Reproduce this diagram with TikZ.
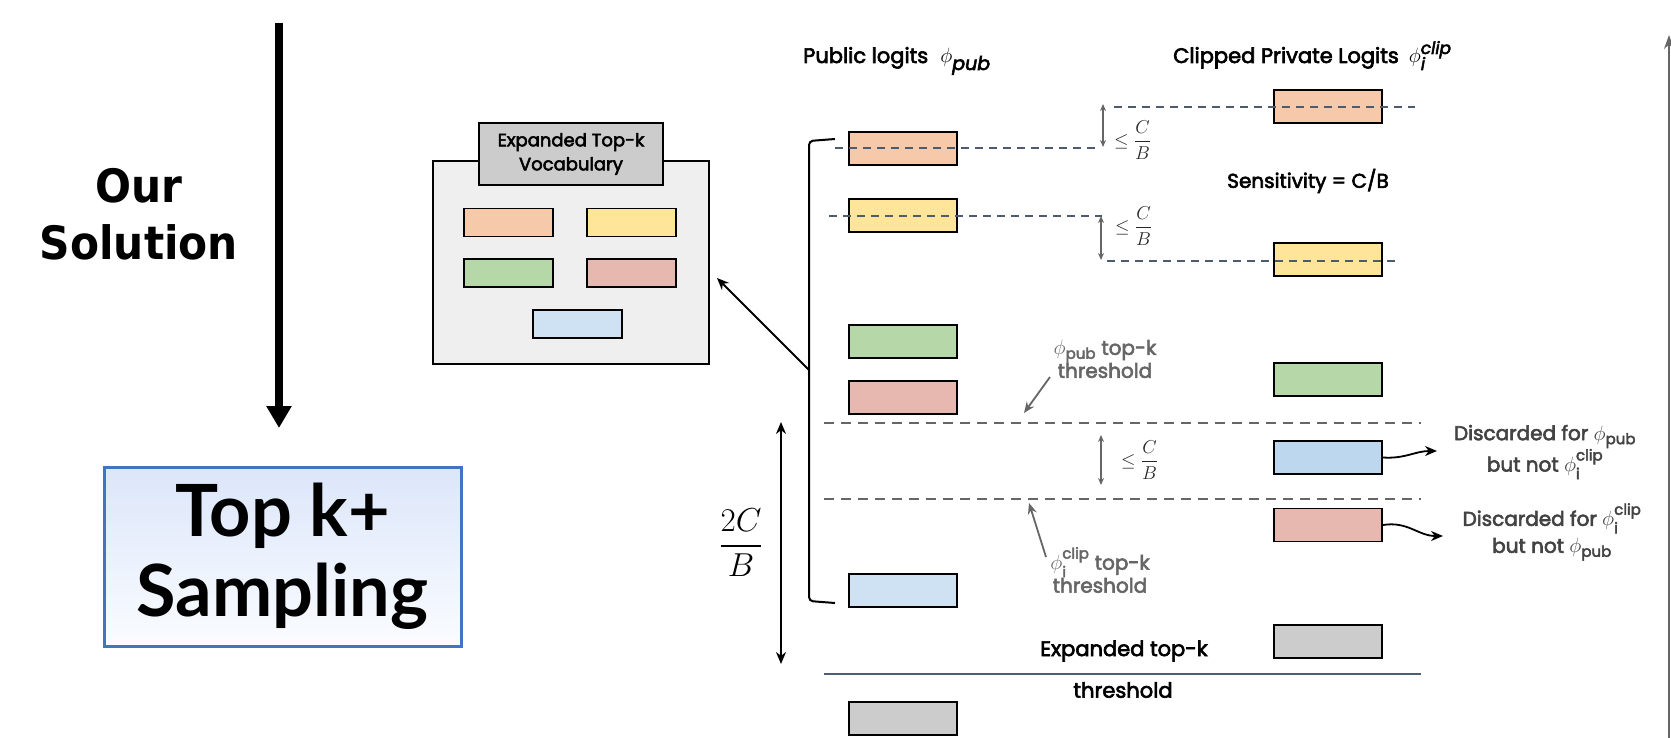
\documentclass[tikz,border=0pt]{standalone}
\usepackage{amsmath}
\usepackage{fontspec}
\usetikzlibrary{arrows.meta}
\newfontfamily\labfont[FakeBold=3]{Poppins}
\newfontfamily\latofont{Lato}
\newfontfamily\dvfont[FakeStretch=0.92]{DejaVu Sans}
\DeclareMathSizes{20}{20}{15}{11}
\DeclareMathSizes{21}{21}{16}{12}
\definecolor{cOrange}{HTML}{F7C9AB}
\definecolor{cYellow}{HTML}{FFE599}
\definecolor{cGreen}{HTML}{B6D7A8}
\definecolor{cRed}{HTML}{E6B8AF}
\definecolor{cBlue}{HTML}{CFE2F3}
\definecolor{cBlueP}{HTML}{BDD7EE}
\definecolor{cGrayC}{HTML}{CCCCCC}
\definecolor{cLight}{HTML}{EFEFEF}
\definecolor{cNavy}{HTML}{4E5B6E}
\definecolor{cGraySix}{HTML}{666666}
\definecolor{cDark}{HTML}{434343}
\definecolor{cSlate}{HTML}{4D5E75}
\definecolor{cBorder}{HTML}{4472C4}
\definecolor{cTop}{HTML}{DCE6FA}
\definecolor{cBot}{HTML}{FAFCFF}
\begin{document}
\begin{tikzpicture}[x=1pt,y=-1pt,
  lbox/.style={draw=black, line width=1.8pt, minimum width=108pt, minimum height=33pt, inner sep=0pt},
  vbox/.style={lbox, minimum width=89pt, minimum height=28pt},
  navydash/.style={draw=cNavy, line width=1.8pt, dash pattern=on 8pt off 6pt},
  graydash/.style={draw=cGraySix, line width=2pt, dash pattern=on 10pt off 7pt},
  dblgray/.style={draw=cGraySix, line width=1.3pt, {Stealth[length=7pt,width=6pt]}-{Stealth[length=7pt,width=6pt]}},
  garrow/.style={draw=cGraySix, line width=1.8pt, -{Stealth[length=11pt,width=9pt]}},
  barrow/.style={draw=black, line width=1.8pt, -{Stealth[length=12pt,width=10pt]}},
  hlab/.style={font=\labfont\fontsize{21}{25}\selectfont, inner sep=0pt, text=black},
  glab/.style={font=\labfont\fontsize{20}{23}\selectfont, inner sep=0pt, text=cGraySix, align=center},
  dlab/.style={font=\labfont\fontsize{20}{27}\selectfont, inner sep=0pt, text=cDark, align=center},
  mlab/.style={font=\fontsize{17.28}{20}\selectfont, inner sep=0pt, text=black!85, anchor=base west}
]
\useasboundingbox (0,0) rectangle (1671,738);

% left part
\node[font=\dvfont\bfseries\fontsize{46}{57}\selectfont, align=center, inner sep=0pt] (ours) at (139,214) {Our\\Solution};
\coordinate (arrTop) at (279,23);
\coordinate (arrTip) at (279,428);
\draw[line width=8pt, -{Triangle[length=22pt,width=24pt]}] (arrTop) -- (arrTip);
\node[draw=cBorder, line width=3pt, top color=cTop, bottom color=cBot, minimum width=357pt, minimum height=179pt, align=center, inner sep=0pt, font=\latofont\bfseries\fontsize{72}{80}\selectfont] (topk) at (282.5,556.5) {Top k+\\Sampling};

% vocabulary box
\node[draw=black, line width=1.8pt, fill=cLight, minimum width=276pt, minimum height=203pt, inner sep=0pt] (vocab) at (571,262.5) {};
\node[draw=black, line width=1.8pt, fill=cGrayC, minimum width=184pt, minimum height=62pt, inner sep=0pt, align=center, font=\labfont\fontsize{18}{24}\selectfont] (vtab) at (571,154) {Expanded Top-k\\Vocabulary};
\node[vbox, fill=cOrange] (vo) at (508.5,222.5) {};
\node[vbox, fill=cYellow] (vy) at (631.5,222.5) {};
\node[vbox, fill=cGreen] (vg) at (508.5,273) {};
\node[vbox, fill=cRed] (vr) at (631.5,273) {};
\node[vbox, fill=cBlue] (vb) at (577.5,324) {};

% bracket
\coordinate (bt) at (835,139);
\coordinate (bb) at (835,603);
\coordinate (bm) at (809,370);
\coordinate (vtip) at (717,278);
\draw[line width=2pt, rounded corners=4pt] (bt) -- (809,141) -- (809,601) -- (bb);
\draw[barrow] (bm) -- (vtip);

% headers
\node[hlab, anchor=base west] (hpub) at (803,63) {Public logits\hspace{12pt}$\phi$\raisebox{-7pt}{\fontsize{19}{19}\selectfont\itshape pub}};
\node[hlab, anchor=base west] (hclip) at (1173,63) {Clipped Private Logits\hspace{10pt}$\phi$\rlap{\raisebox{-7pt}{\fontsize{17}{17}\selectfont\itshape i}}\raisebox{9pt}{\fontsize{17}{17}\selectfont\itshape clip}};
\node[hlab, font=\labfont\fontsize{20}{24}\selectfont] (sens) at (1308,181) {Sensitivity = C/B};

% gray thresholds
\draw[graydash] (824,423) -- (1421,423);
\draw[graydash] (824,499) -- (1421,499);
\draw[draw=cSlate, line width=2pt] (824,674) -- (1421,674);

% public boxes
\node[lbox, fill=cOrange] (po) at (903,148.5) {};
\node[lbox, fill=cYellow] (py) at (903,215.5) {};
\node[lbox, fill=cGreen] (pg) at (903,341.5) {};
\node[lbox, fill=cRed] (pr) at (903,397.5) {};
\node[lbox, fill=cBlue] (pb) at (903,590.5) {};
\node[lbox, fill=cGrayC] (pk) at (903,718.5) {};

% private boxes
\node[lbox, fill=cOrange] (qo) at (1328,106.5) {};
\node[lbox, fill=cYellow] (qy) at (1328,259.5) {};
\node[lbox, fill=cGreen] (qg) at (1328,379.5) {};
\node[lbox, fill=cBlueP] (qb) at (1328,457.5) {};
\node[lbox, fill=cRed] (qr) at (1328,525) {};
\node[lbox, fill=cGrayC] (qk) at (1328,641.5) {};

% dashed lines (navy), drawn over the boxes
\draw[navydash] (835,148) -- (1097,148);
\draw[navydash] (829,216) -- (1102,216);
\draw[navydash] (1114,107) -- (1415,107);
\draw[navydash] (1107,261) -- (1398,261);

% small double arrows and labels
\draw[dblgray] (1103,104) -- (1103,147);
\draw[dblgray] (1101,216) -- (1101,260);
\draw[dblgray] (1101,435) -- (1101,485);
\node[mlab] (cb1) at (1114,146.5) {\scalebox{1.08}{$\leq\dfrac{C}{B}$}};
\node[mlab] (cb2) at (1115,232.5) {\scalebox{1.08}{$\leq\dfrac{C}{B}$}};
\node[mlab] (cb3) at (1121,466.5) {\scalebox{1.08}{$\leq\dfrac{C}{B}$}};

% 2C/B
\draw[line width=2pt, {Stealth[length=12pt,width=10pt]}-{Stealth[length=12pt,width=10pt]}] (781,422) -- (781,664);
\node[font=\fontsize{20.74}{24}\selectfont, inner sep=0pt] (twocb) at (741,543) {\scalebox{1.6}{$\dfrac{2C}{B}$}};

% threshold labels
\node[glab] (pthr) at (1105,359) {$\phi_{\text{pub}}$ top-k\\threshold};
\draw[garrow] (1050,377) -- (1024,413);
\node[glab] (cthr) at (1100,570) {$\phi_{\text{i}}^{\text{clip}}$ top-k\\threshold};
\draw[garrow] (1046,557) -- (1029,503);

% expanded threshold
\node[hlab, font=\labfont\fontsize{21}{25}\selectfont] (ethr1) at (1124,651) {Expanded top-k};
\node[hlab, font=\labfont\fontsize{21}{25}\selectfont] (ethr2) at (1123,690) {threshold};

% discarded
\node[dlab] (d1) at (1545,452) {Discarded for $\phi_{\text{pub}}$\\but not $\phi_{\text{i}}^{\text{clip}}$};
\node[dlab] (d2) at (1552,532) {Discarded for $\phi_{\text{i}}^{\text{clip}}$\\but not $\phi_{\text{pub}}$};
\coordinate (d1in) at (1437,451);
\coordinate (d2in) at (1443,536);
\draw[barrow] (qb.east) .. controls (1405,459) and (1415,451) .. (d1in);
\draw[barrow] (qr.east) .. controls (1408,521) and (1418,536) .. (d2in);

% right edge arrow
\coordinate (rb) at (1669,738);
\coordinate (rt) at (1669,35);
\draw[draw=cGraySix, line width=1.5pt, -{Stealth[length=14pt,width=10pt]}] (rb) -- (rt);
\end{tikzpicture}
\end{document}
